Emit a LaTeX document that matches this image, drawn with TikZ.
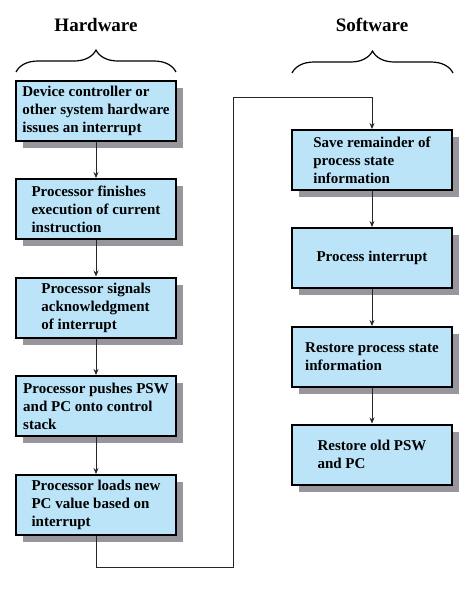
\documentclass[tikz,border=0pt]{standalone}
\usepackage{fontspec}
\setmainfont{Liberation Serif}
\usetikzlibrary{arrows.meta,shadows,decorations.pathreplacing}
\definecolor{boxblue}{RGB}{187,228,248}
\definecolor{shade}{RGB}{150,150,156}
\begin{document}
\begin{tikzpicture}[x=1pt,y=-1pt,
    stepbox/.style={draw=black,line width=2pt,fill=boxblue,minimum width=160pt,minimum height=60pt,
      align=left,inner sep=3pt,font=\bfseries\fontsize{15}{18}\selectfont,
      drop shadow={shadow xshift=7pt,shadow yshift=-7pt,fill=shade,opacity=1}},
    head/.style={font=\bfseries\fontsize{19}{22}\selectfont},
    arr/.style={draw=black!85,line width=0.8pt,-{Stealth[length=6pt,width=5pt]}},
    grp/.style={decorate,decoration={brace,amplitude=22pt},line width=1.2pt}]
  \useasboundingbox (0,0) rectangle (472,590);
  \node[head] (hw) at (96,25) {Hardware};
  \node[head] (sw) at (372,25) {Software};
  \draw[grp] (16,72) -- (176,72);
  \draw[grp] (292,73) -- (453,73);
  \node[stepbox] (hw1) at (96,110.5) {Device controller or\\other system hardware\\issues an interrupt};
  \node[stepbox] (hw2) at (96,209) {Processor finishes\\execution of current\\instruction};
  \node[stepbox] (hw3) at (96,307.5) {Processor signals\\acknowledgment\\of interrupt};
  \node[stepbox] (hw4) at (96,406) {Processor pushes PSW\\and PC onto control\\stack};
  \node[stepbox] (hw5) at (96,505) {Processor loads new\\PC value based on\\interrupt};
  \node[stepbox] (sw1) at (372,160) {Save remainder of\\process state\\information};
  \node[stepbox] (sw2) at (372,258) {Process interrupt};
  \node[stepbox] (sw3) at (372,357) {Restore process state\\information};
  \node[stepbox] (sw4) at (372,454.5) {Restore old PSW\\and PC};
  \coordinate (low) at (233,567);
  \coordinate (high) at (233,97);
  \draw[arr] (hw1) to (hw2);
  \draw[arr] (hw2) to (hw3);
  \draw[arr] (hw3) to (hw4);
  \draw[arr] (hw4) to (hw5);
  \draw[arr] (hw5.south) |- (low) -- (high) -| (sw1.north);
  \draw[arr] (sw1) to (sw2);
  \draw[arr] (sw2) to (sw3);
  \draw[arr] (sw3) to (sw4);
\end{tikzpicture}
\end{document}
